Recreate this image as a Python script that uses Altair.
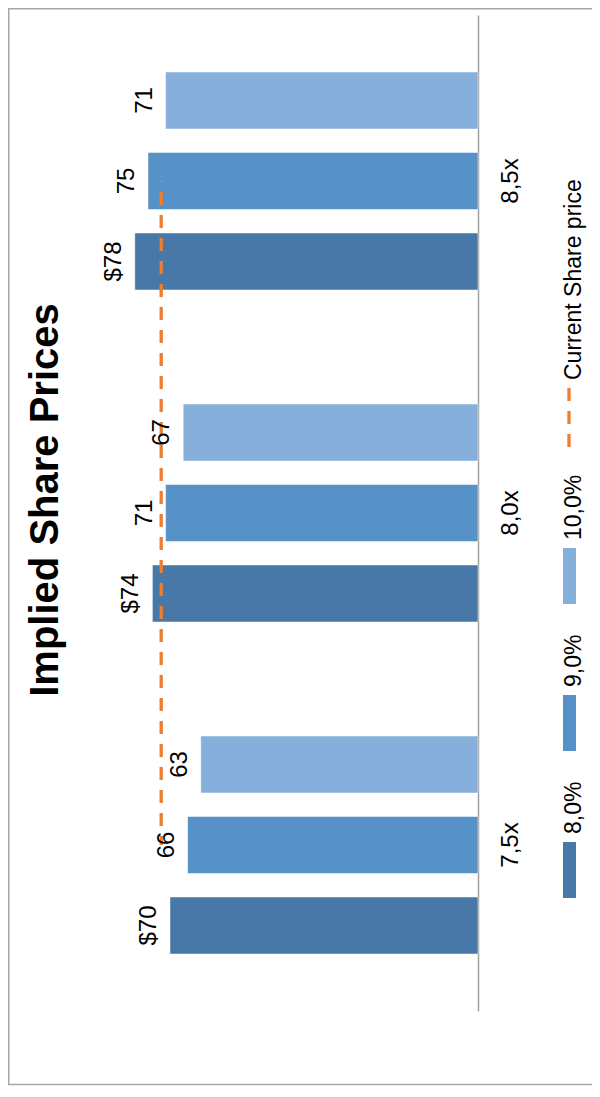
import altair as alt
import pandas as pd

# ---- data ----
categories = ["7,5x", "8,0x", "8,5x"]
series_names = ["8,0%", "9,0%", "10,0%"]
values_8 = [70, 74, 78]
values_9 = [66, 71, 75]
values_10 = [63, 67, 71]
current_price = 72
title_text = "Implied Share Prices"
line_name = "Current Share price"

colors = ["#4878a8", "#5692c7", "#86afdb"]
FONT = "Liberation Sans"

rows = []
for s, vals in zip(series_names, [values_8, values_9, values_10]):
    for c, v in zip(categories, vals):
        lab = ("$" + str(v)) if s == "8,0%" else str(v)
        rows.append({"cat": c, "series": s, "value": v, "label": lab})
bars_df = pd.DataFrame(rows)

line_df = pd.DataFrame({"cat": categories[::-1], "value": [current_price] * 3,
                        "ord": [0, 1, 2]})
legend_df = pd.DataFrame({"series": series_names})
one = pd.DataFrame({"k": [0]})

cat_order = categories[::-1]          # top -> bottom
off_order = series_names[::-1]        # 10% on top within each group

x_scale = alt.Scale(domain=[0, 100], range=[470, 30])
y_scale = alt.Scale(type="band", domain=cat_order, range=[7, 1003],
                    paddingInner=0, paddingOuter=0)
yoff_scale = alt.Scale(type="band", domain=off_order, paddingInner=0.292, paddingOuter=0.708)
color_scale = alt.Scale(domain=series_names, range=colors)

base = alt.Chart(bars_df)

bars = base.mark_bar(stroke="#ffffff", strokeWidth=0.8, strokeOpacity=0.6).encode(
    x=alt.X("value:Q", scale=x_scale, axis=None),
    x2=alt.datum(0),
    y=alt.Y("cat:N", scale=y_scale,
            axis=alt.Axis(orient="right", offset=-114, title=None, ticks=False, tickSize=0,
                          labelAngle=270, labelAlign="center", labelBaseline="top",
                          labelPadding=20, labelFontSize=24, labelFont=FONT,
                          labelColor="#000000", domainColor="#a0a0a0", domainWidth=1.5,
                          grid=False)),
    yOffset=alt.YOffset("series:N", scale=yoff_scale),
    color=alt.Color("series:N", scale=color_scale, legend=None),
)

labels = base.mark_text(angle=270, align="center", baseline="alphabetic", dy=-14,
                        fontSize=24, font=FONT, color="#000000").encode(
    x=alt.X("value:Q", scale=x_scale, axis=None),
    y=alt.Y("cat:N", scale=y_scale, axis=None),
    yOffset=alt.YOffset("series:N", scale=yoff_scale),
    text="label:N",
)

line = alt.Chart(line_df).mark_line(color="#ed7d31", strokeWidth=3.3,
                                    strokeDash=[13, 10], strokeDashOffset=12).encode(
    x=alt.X("value:Q", scale=x_scale, axis=None),
    y=alt.Y("cat:N", scale=y_scale, axis=None),
    order=alt.Order("ord:Q"),
)

leg_scale = alt.Scale(type="band", domain=off_order, range=[540, 890],
                      paddingInner=0.619, paddingOuter=0)

leg_rect = alt.Chart(legend_df).mark_rect().encode(
    x=alt.value(555), x2=alt.value(568),
    y=alt.Y("series:N", scale=leg_scale, axis=None),
    color=alt.Color("series:N", scale=color_scale, legend=None),
)

leg_text = alt.Chart(legend_df).mark_text(angle=270, align="left", baseline="alphabetic",
                                          dx=8, fontSize=23, font=FONT,
                                          color="#000000").encode(
    x=alt.value(573),
    y=alt.Y("series:N", scale=leg_scale, axis=None, bandPosition=0),
    text="series:N",
)

leg_line = alt.Chart(one).mark_rule(color="#ed7d31", strokeWidth=3.3,
                                    strokeDash=[13, 10]).encode(
    x=alt.value(561), y=alt.value(439), y2=alt.value(380),
)

leg_line_text = alt.Chart(one).mark_text(angle=270, align="left", baseline="alphabetic",
                                         fontSize=23, font=FONT, color="#000000",
                                         text=line_name).encode(
    x=alt.value(573), y=alt.value(372),
)

title = alt.Chart(one).mark_text(angle=270, align="center", baseline="alphabetic",
                                 fontSize=40, fontWeight="bold", font=FONT,
                                 color="#000000", text=title_text).encode(
    x=alt.value(50), y=alt.value(492),
)

frame = alt.Chart(one).mark_rect(fillOpacity=0, stroke="#a6a6a6", strokeWidth=1.5).encode(
    x=alt.value(0.75), x2=alt.value(800), y=alt.value(0.75), y2=alt.value(1076.5),
)

chart = alt.layer(
    frame, bars, line, labels, leg_rect, leg_text, leg_line, leg_line_text, title
).resolve_scale(y="independent").properties(
    width=584, height=1078,
    autosize=alt.AutoSizeParams(type="none"),
    padding=0,
).configure_view(stroke=None)

chart.save("out.html", embed_options={"renderer": "svg", "actions": False})
